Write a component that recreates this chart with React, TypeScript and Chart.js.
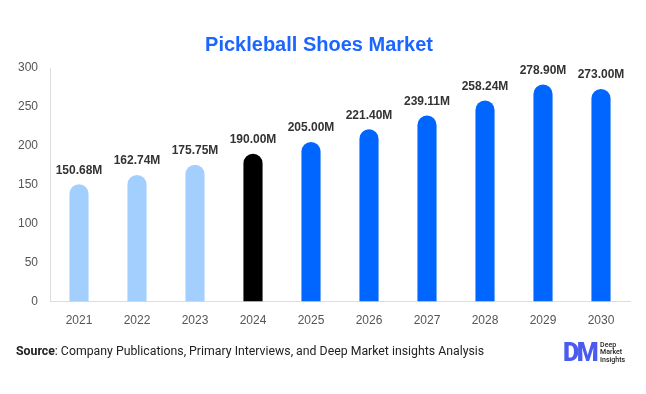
import React, { useEffect, useRef } from "react";
import { Chart, registerables } from "chart.js";
Chart.register(...registerables);

const categories = ["2021", "2022", "2023", "2024", "2025", "2026", "2027", "2028", "2029", "2030"];
const values = [150.68, 162.74, 175.75, 190.0, 205.0, 221.4, 239.11, 258.24, 278.9, 273.0];
const valueLabels = ["150.68M", "162.74M", "175.75M", "190.00M", "205.00M", "221.40M", "239.11M", "258.24M", "278.90M", "273.00M"];
const barColors = ["#a3cfff", "#a3cfff", "#a3cfff", "#000000", "#0066ff", "#0066ff", "#0066ff", "#0066ff", "#0066ff", "#0066ff"];
const yTicks = [0, 50, 100, 150, 200, 250, 300];

const labelPlugin = {
  id: "valueLabels",
  afterDatasetsDraw(chart: any) {
    const { ctx } = chart;
    const meta = chart.getDatasetMeta(0);
    ctx.save();
    ctx.font = "bold 12px 'Liberation Sans', Arial, sans-serif";
    ctx.fillStyle = "#333333";
    ctx.textAlign = "center";
    ctx.textBaseline = "bottom";
    meta.data.forEach((bar: any, i: number) => {
      ctx.fillText(valueLabels[i], bar.x, bar.y - 8);
    });
    ctx.restore();
  },
};

export default function App() {
  const ref = useRef<HTMLCanvasElement>(null);
  useEffect(() => {
    if (!ref.current) return;
    const chart = new Chart(ref.current, {
      type: "bar",
      data: {
        labels: categories,
        datasets: [
          {
            data: values,
            backgroundColor: barColors,
            borderRadius: { topLeft: 10, topRight: 10, bottomLeft: 0, bottomRight: 0 },
            borderSkipped: false,
            barPercentage: 0.33,
            categoryPercentage: 1,
          },
        ],
      },
      options: {
        responsive: false,
        animation: false,
        layout: { padding: { left: 8, right: 16, top: 0, bottom: 62 } },
        plugins: {
          legend: { display: false },
          tooltip: { enabled: false },
          title: {
            display: true,
            text: "Pickleball Shoes Market",
            color: "#1a66ff",
            font: { size: 20, weight: "bold", family: "'Liberation Sans', Arial, sans-serif" },
            padding: { top: 33, bottom: 11 },
          },
        },
        scales: {
          x: {
            grid: { display: false },
            border: { color: "#dddddd" },
            ticks: { color: "#555555", font: { size: 12, family: "'Liberation Sans', Arial, sans-serif" }, padding: 4 },
          },
          y: {
            min: 0,
            max: 300,
            afterBuildTicks: (axis: any) => {
              axis.ticks = yTicks.map((v) => ({ value: v }));
            },
            afterFit: (axis: any) => {
              axis.width = 42;
            },
            grid: { display: false },
            border: { color: "#dddddd" },
            ticks: { color: "#555555", font: { size: 12, family: "'Liberation Sans', Arial, sans-serif" }, padding: 4 },
          },
        },
      },
      plugins: [labelPlugin],
    });
    return () => chart.destroy();
  }, []);

  return (
    <div style={{ position: "fixed", left: 0, top: 0, width: 646, height: 394, background: "#fff" }}>
      <canvas ref={ref} width={646} height={394} style={{ width: 646, height: 394, display: "block" }} />
      <div
        style={{
          position: "absolute",
          left: 16,
          top: 344,
          fontFamily: "Roboto, 'Open Sans', sans-serif",
          fontSize: 12.3,
          color: "#222",
          whiteSpace: "nowrap",
        }}
      >
        <span style={{ fontWeight: "bold" }}>Source</span>: Company Publications, Primary Interviews, and Deep Market insights Analysis
      </div>
      <div style={{ position: "absolute", left: 563, top: 341, display: "flex", alignItems: "center" }}>
        <span
          style={{
            fontFamily: "Roboto, sans-serif",
            fontWeight: 900,
            fontSize: 25,
            color: "#4a5cf0",
            letterSpacing: -2.5,
            lineHeight: "24px",
          }}
        >
          DM
        </span>
        <span
          style={{
            fontFamily: "Roboto, sans-serif",
            fontSize: 7,
            lineHeight: "7.5px",
            color: "#222",
            marginLeft: 4,
            fontWeight: 500,
          }}
        >
          Deep
          <br />
          Market
          <br />
          Insights
        </span>
      </div>
    </div>
  );
}
